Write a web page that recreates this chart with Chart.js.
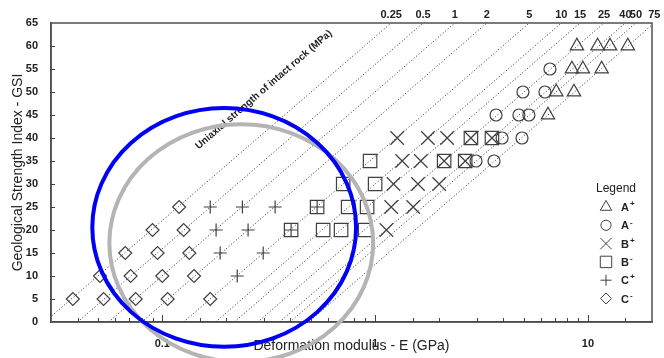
<!DOCTYPE html>
<html>
<head>
<meta charset="utf-8">
<script src="https://cdn.jsdelivr.net/npm/chart.js@4.4.0/dist/chart.umd.min.js"></script>
<style>
  html, body { margin: 0; padding: 0; background: #fff; }
</style>
</head>
<body>
<canvas id="gsiChart" width="664" height="358"></canvas>
<script>
// uniaxial strength of intact rock (MPa), written along the top
const ucsLabels = ['0.25', '0.5', '1', '2', '5', '10', '15', '25', '40', '50', '75'];
// E (GPa) where each dotted strength line meets GSI = 0 and GSI = 65
const ucsLineBottomE = [0.028, 0.040, 0.056, 0.080, 0.126, 0.178, 0.218, 0.281, 0.356, 0.398, 0.487];
const ucsLineTopE = [1.19, 1.68, 2.37, 3.35, 5.30, 7.50, 9.18, 11.9, 15.0, 16.8, 20.5];

// A+ (triangles)
const aPlusE = [6.49, 7.1, 8.6, 8.41, 9.47, 11.6, 8.88, 11.1, 12.7, 15.4];
const aPlusGSI = [45, 50, 50, 55, 55, 55, 60, 60, 60, 60];
// A- (circles)
const aMinusE = [2.98, 3.62, 3.95, 4.90, 3.70, 4.74, 5.28, 4.95, 6.28, 6.63];
const aMinusGSI = [35, 35, 40, 40, 45, 45, 45, 50, 50, 55];
// B+ (crosses)
const bPlusE = [1.13, 1.19, 1.51, 1.22, 1.59, 2.00, 1.34, 1.64, 2.11, 2.65, 1.27, 1.77, 2.18, 2.82, 3.54];
const bPlusGSI = [20, 25, 25, 30, 30, 30, 35, 35, 35, 35, 40, 40, 40, 40, 40];
// B- (squares)
const bMinusE = [0.403, 0.570, 0.692, 0.898, 0.534, 0.747, 0.917, 0.708, 1.0, 0.947, 2.11, 2.65, 2.82, 3.54];
const bMinusGSI = [20, 20, 20, 20, 25, 25, 25, 30, 30, 35, 35, 35, 40, 40];
// C+ (plus)
const cPlusE = [0.168, 0.238, 0.339, 0.534, 0.179, 0.253, 0.403, 0.187, 0.298, 0.225];
const cPlusGSI = [25, 25, 25, 25, 20, 20, 20, 15, 15, 10];
// C- (diamonds)
const cMinusE = [0.038, 0.053, 0.075, 0.106, 0.168, 0.051, 0.071, 0.100, 0.141, 0.067, 0.095, 0.134, 0.090, 0.126, 0.120];
const cMinusGSI = [5, 5, 5, 5, 5, 10, 10, 10, 10, 15, 15, 15, 20, 20, 25];

const FONT = 'Arial, "Liberation Sans", sans-serif';
const markColor = '#404040';

function pts(xs, ys) {
    return xs.map((x, i) => ({ x: x, y: ys[i] }));
}

const groups = [
    { base: 'A', sup: '+', style: 'triangle', r: 7.7, xs: aPlusE, ys: aPlusGSI },
    { base: 'A', sup: '-', style: 'circle', r: 6, xs: aMinusE, ys: aMinusGSI },
    { base: 'B', sup: '+', style: 'crossRot', r: 9.5, xs: bPlusE, ys: bPlusGSI },
    { base: 'B', sup: '-', style: 'rect', r: 9.5, xs: bMinusE, ys: bMinusGSI },
    { base: 'C', sup: '+', style: 'cross', r: 6.5, xs: cPlusE, ys: cPlusGSI },
    { base: 'C', sup: '-', style: 'rectRot', r: 6.5, xs: cMinusE, ys: cMinusGSI }
];

const markerSets = groups.map(g => ({
    type: 'scatter',
    label: g.base + g.sup,
    data: pts(g.xs, g.ys),
    pointStyle: g.style,
    pointRadius: g.r,
    pointHoverRadius: g.r,
    borderColor: markColor,
    backgroundColor: 'rgba(0,0,0,0)',
    pointBorderWidth: 1.2,
    showLine: false,
    order: 0
}));

// dotted strength lines
const lineSets = ucsLabels.map((lab, i) => ({
    type: 'line',
    label: 'UCS ' + lab,
    data: [{ x: ucsLineBottomE[i], y: 0 }, { x: ucsLineTopE[i], y: 65 }],
    borderColor: '#2a2a2a',
    borderWidth: 1,
    borderDash: [1, 2.2],
    pointRadius: 0,
    fill: false,
    order: 1
}));

// the two rings drawn over the chart (data coordinates)
const grayRing = { left: 0.0564, right: 0.979, top: 43.0, bottom: -8.7, color: '#b4b4b4' };
const blueRing = { left: 0.0469, right: 0.814, top: 46.5, bottom: -5.4, color: '#0000f5' };

const extras = {
    id: 'extras',
    afterDatasetsDraw(chart) {
        const ctx = chart.ctx;
        const xs = chart.scales.x, ys = chart.scales.y, a = chart.chartArea;
        ctx.save();

        // frame
        ctx.strokeStyle = '#505050';
        ctx.lineWidth = 1.5;
        ctx.strokeRect(a.left, a.top, a.right - a.left, a.bottom - a.top);

        // inner tick marks
        ctx.lineWidth = 1;
        ctx.strokeStyle = '#404040';
        xs.ticks.forEach(t => {
            const v = t.value;
            if (v <= xs.min || v >= xs.max) return;
            const lg = Math.log10(v);
            const major = Math.abs(lg - Math.round(lg)) < 1e-6;
            const px = Math.round(xs.getPixelForValue(v)) + 0.5;
            ctx.beginPath();
            ctx.moveTo(px, a.bottom);
            ctx.lineTo(px, a.bottom - (major ? 7 : 4));
            ctx.stroke();
        });
        ys.ticks.forEach(t => {
            if (t.value <= ys.min || t.value >= ys.max) return;
            const py = Math.round(ys.getPixelForValue(t.value)) + 0.5;
            ctx.beginPath();
            ctx.moveTo(a.left, py);
            ctx.lineTo(a.left + 4, py);
            ctx.stroke();
        });

        // strength labels along the top
        ctx.fillStyle = '#222';
        ctx.font = 'bold 11px ' + FONT;
        ctx.textAlign = 'center';
        ctx.textBaseline = 'middle';
        ucsLabels.forEach((lab, i) => {
            ctx.fillText(lab, xs.getPixelForValue(ucsLineTopE[i]), 15);
        });

        // rotated caption, parallel to the strength lines
        const p0x = xs.getPixelForValue(ucsLineBottomE[0]), p0y = ys.getPixelForValue(0);
        const p1x = xs.getPixelForValue(ucsLineTopE[0]), p1y = ys.getPixelForValue(65);
        const ang = Math.atan2(p1y - p0y, p1x - p0x);
        ctx.save();
        ctx.translate(xs.getPixelForValue(0.30), ys.getPixelForValue(50.5));
        ctx.rotate(ang);
        ctx.font = 'bold 10px ' + FONT;
        ctx.fillText('Uniaxial strength of intact rock (MPa)', 0, 0);
        ctx.restore();

        // legend
        ctx.font = '12px ' + FONT;
        ctx.fillText('Legend', 616, 189);
        groups.forEach((g, i) => {
            const y = 207 + i * 18.3;
            ctx.strokeStyle = markColor;
            ctx.fillStyle = 'rgba(0,0,0,0)';
            Chart.helpers.drawPoint(ctx, { pointStyle: g.style, radius: g.r * 0.85, rotation: 0, borderWidth: 1.1 }, 606, y);
            ctx.fillStyle = '#222';
            ctx.textAlign = 'left';
            ctx.font = 'bold 11px ' + FONT;
            ctx.fillText(g.base, 621, y + 1);
            ctx.font = 'bold 8px ' + FONT;
            ctx.fillText(g.sup === '+' ? '+' : '-', 630, y - 3);
        });
        ctx.restore();
    },
    afterDraw(chart) {
        const ctx = chart.ctx;
        const xs = chart.scales.x, ys = chart.scales.y;
        ctx.save();
        [grayRing, blueRing].forEach(r => {
            const l = xs.getPixelForValue(r.left), rt = xs.getPixelForValue(r.right);
            const t = ys.getPixelForValue(r.top), b = ys.getPixelForValue(r.bottom);
            ctx.beginPath();
            ctx.ellipse((l + rt) / 2, (t + b) / 2, (rt - l) / 2, (b - t) / 2, 0, 0, Math.PI * 2);
            ctx.strokeStyle = r.color;
            ctx.lineWidth = 4;
            ctx.stroke();
        });
        ctx.restore();
    }
};

new Chart(document.getElementById('gsiChart'), {
    type: 'scatter',
    data: { datasets: markerSets.concat(lineSets) },
    options: {
        responsive: false,
        animation: false,
        layout: { padding: { top: 23, right: 12, left: 0, bottom: 0 } },
        plugins: {
            legend: { display: false },
            tooltip: { enabled: false }
        },
        scales: {
            x: {
                type: 'logarithmic',
                position: 'bottom',
                min: 0.03,
                max: 20,
                grid: { display: false },
                border: { display: true, color: '#404040', width: 1.5 },
                ticks: {
                    autoSkip: false,
                    maxRotation: 0,
                    padding: 7,
                    color: '#222',
                    font: { family: FONT, size: 11, weight: 'bold' },
                    callback: v => {
                        const lg = Math.log10(v);
                        if (Math.abs(lg - Math.round(lg)) > 1e-6) return '';
                        return v < 1 ? '0.1' : String(Math.round(v));
                    }
                },
                title: {
                    display: true,
                    text: 'Deformation modulus - E (GPa)',
                    color: '#222',
                    font: { family: FONT, size: 14 },
                    padding: { top: 0, bottom: 3 }
                },
                afterFit: s => { s.height = 36; }
            },
            y: {
                min: 0,
                max: 65,
                grid: { display: false },
                border: { display: true, color: '#404040', width: 1.5 },
                ticks: {
                    stepSize: 5,
                    padding: 5,
                    color: '#222',
                    font: { family: FONT, size: 11, weight: 'bold' }
                },
                title: {
                    display: true,
                    text: 'Geological Strength Index - GSI',
                    color: '#222',
                    font: { family: FONT, size: 14 },
                    padding: { top: 10, bottom: 0 }
                },
                afterFit: s => { s.width = 51; }
            }
        }
    },
    plugins: [extras]
});
</script>
</body>
</html>
